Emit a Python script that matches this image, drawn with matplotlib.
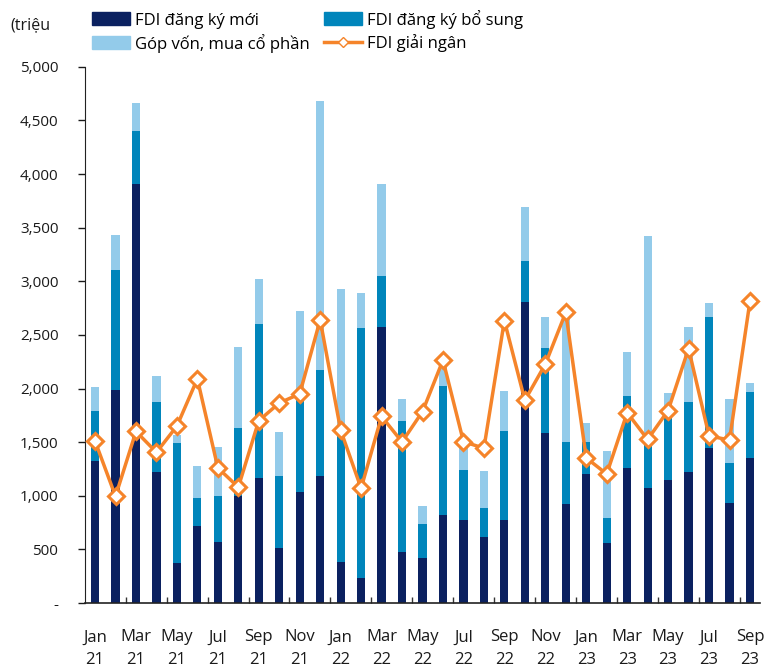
import matplotlib.pyplot as plt
from matplotlib.lines import Line2D
from matplotlib.patches import Patch
import numpy as np

plt.rcParams['font.family'] = ['Open Sans', 'DejaVu Sans']

# monthly data, Jan 2021 - Sep 2023 (million USD)
MONTHS = ['Jan', 'Feb', 'Mar', 'Apr', 'May', 'Jun', 'Jul', 'Aug', 'Sep', 'Oct', 'Nov', 'Dec']
YEARS = ['21', '22', '23']

# cumulative tops, converted to segment heights below
new_top = [1320, 1985, 3905, 1225, 370, 720, 570, 1000, 1170, 515, 1035, 1180,
           385, 235, 2570, 475, 420, 825, 770, 620, 770, 2805,
           1585, 925, 1200, 560, 1255, 1075, 1145, 1225, 1445, 935, 1355]
add_top = [1790, 3105, 4400, 1875, 1490, 980, 995, 1635, 2600, 1185, 1890, 2175,
           1590, 2565, 3050, 1700, 735, 2025, 1240, 885, 1600, 3190,
           2375, 1500, 1500, 795, 1930, 1470, 1775, 1875, 2670, 1310, 1965]
total_top = [2015, 3435, 4665, 2115, 1570, 1275, 1455, 2390, 3025, 1590, 2720, 4685,
             2925, 2890, 3905, 1905, 905, 2200, 1455, 1235, 1975, 3695,
             2670, 2650, 1675, 1420, 2340, 3420, 1960, 2570, 2800, 1905, 2055]
disbursed = [1510, 995, 1600, 1405, 1650, 2090, 1260, 1080, 1700, 1865, 1950, 2640,
             1612, 1070, 1740, 1502, 1785, 2265, 1505, 1443, 2633, 1890,
             2227, 2710, 1353, 1203, 1775, 1525, 1795, 2373, 1559, 1519, 2815]

new_reg = np.array(new_top)
add_reg = np.array(add_top) - np.array(new_top)
equity = np.array(total_top) - np.array(add_top)

labels = []
for i in range(len(new_top)):
    labels.append(MONTHS[i % 12] + '\n' + YEARS[i // 12])

DARK = '#0b2160'
MID = '#0085bb'
LIGHT = '#93cbea'
ORANGE = '#f5842a'

fig = plt.figure(figsize=(7.71, 6.68), dpi=100)
ax = fig.add_axes([0.110, 0.0973, 0.876, 0.8027])

x = np.arange(len(new_top))
w = 0.4
ax.bar(x, new_reg, w, color=DARK, zorder=2)
ax.bar(x, add_reg, w, bottom=new_reg, color=MID, zorder=2)
ax.bar(x, equity, w, bottom=new_reg + add_reg, color=LIGHT, zorder=2)
ax.plot(x, disbursed, color=ORANGE, lw=2.5, marker='D', markersize=8.5,
        markerfacecolor='white', markeredgecolor=ORANGE, markeredgewidth=2.2, zorder=3)

ax.set_xlim(-0.5, 32.5)
ax.set_ylim(0, 5000)
ax.set_yticks(np.arange(0, 5001, 500))
ax.set_yticklabels(['-'] + ['{:,}'.format(v) for v in range(500, 5001, 500)])
ax.set_xticks(x[::2])
ax.set_xticklabels(labels[::2], linespacing=1.55)
ax.set_xticks(np.arange(1.5, 32, 2), minor=True)
ax.tick_params(axis='x', which='major', length=0, pad=19, labelsize=12, colors='#1a1a1a')
ax.tick_params(axis='x', which='minor', direction='in', length=4, width=1, colors='#333333')
ax.tick_params(axis='y', length=5, width=1, labelsize=11, pad=14, colors='#1a1a1a')
for sp in ['top', 'right']:
    ax.spines[sp].set_visible(False)
ax.spines['left'].set_color('#222222')
ax.spines['bottom'].set_color('#222222')
ax.spines['bottom'].set_linewidth(1.2)

fig.text(0.013, 0.962, '(triệu', fontsize=11.5, color='#1a1a1a', va='center')

handles = [Patch(color=DARK), Patch(color=LIGHT), Patch(color=MID),
           Line2D([0], [0], color=ORANGE, lw=2.5, marker='D', markersize=5,
                  markerfacecolor='white', markeredgecolor=ORANGE)]
names = ['FDI đăng ký mới', 'Góp vốn, mua cổ phần', 'FDI đăng ký bổ sung', 'FDI giải ngân']
fig.legend(handles, names, ncol=2, loc='upper left', bbox_to_anchor=(0.100, 1.008),
           frameon=False, fontsize=12, handlelength=2.3, handleheight=0.8,
           columnspacing=0.8, labelspacing=0.3, handletextpad=0.3)

fig.savefig('out.png', dpi=100)
